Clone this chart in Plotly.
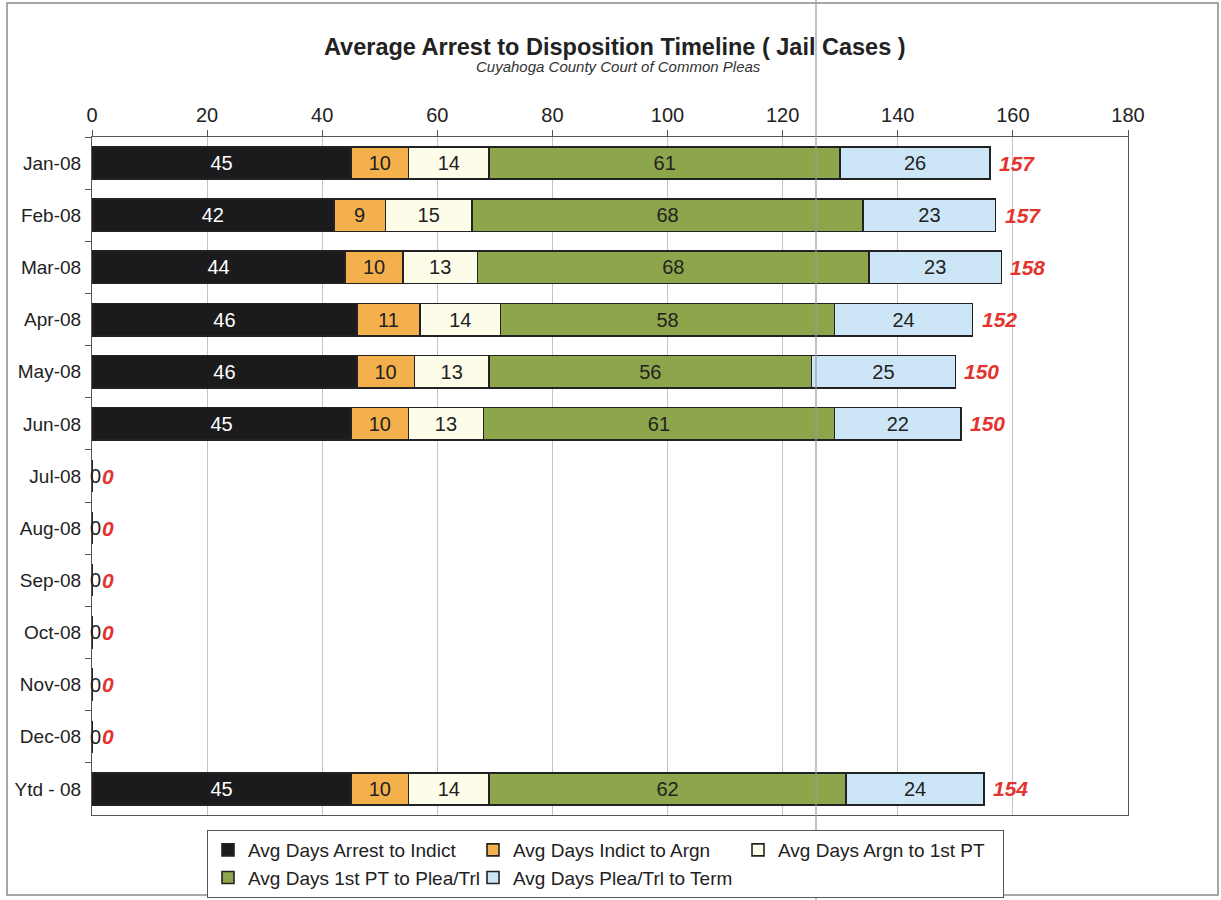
import plotly.graph_objects as go

months = ["Jan-08", "Feb-08", "Mar-08", "Apr-08", "May-08", "Jun-08", "Jul-08",
          "Aug-08", "Sep-08", "Oct-08", "Nov-08", "Dec-08", "Ytd - 08"]

arrest_to_indict = [45, 42, 44, 46, 46, 45, 0, 0, 0, 0, 0, 0, 45]
indict_to_argn = [10, 9, 10, 11, 10, 10, 0, 0, 0, 0, 0, 0, 10]
argn_to_1st_pt = [14, 15, 13, 14, 13, 13, 0, 0, 0, 0, 0, 0, 14]
pt_to_plea = [61, 68, 68, 58, 56, 61, 0, 0, 0, 0, 0, 0, 62]
plea_to_term = [26, 23, 23, 24, 25, 22, 0, 0, 0, 0, 0, 0, 24]
totals = [157, 157, 158, 152, 150, 150, 0, 0, 0, 0, 0, 0, 154]

series = [
    ("Avg Days Arrest to Indict", arrest_to_indict, "#1b1b1d", "white"),
    ("Avg Days Indict to Argn", indict_to_argn, "#f3b04d", "#222222"),
    ("Avg Days Argn to 1st PT", argn_to_1st_pt, "#fcfce8", "#222222"),
    ("Avg Days 1st PT to Plea/Trl", pt_to_plea, "#8da64b", "#222222"),
    ("Avg Days Plea/Trl to Term", plea_to_term, "#cde6f7", "#222222"),
]

FONT = "Arial, Liberation Sans, sans-serif"

fig = go.Figure()
for name, vals, color, txtcol in series:
    fig.add_trace(go.Bar(
        y=months, x=vals, name=name, orientation="h",
        marker=dict(color=color, line=dict(color="#222222", width=1.6)),
        text=[str(v) if v else "" for v in vals],
        textposition="inside", insidetextanchor="middle", textangle=0,
        textfont=dict(family=FONT, size=20, color=txtcol),
        hoverinfo="x+name",
    ))

# totals at the end of each bar, plus the zero labels for empty months
bar_ends = [a + b + c + d + e for a, b, c, d, e in
            zip(arrest_to_indict, indict_to_argn, argn_to_1st_pt, pt_to_plea, plea_to_term)]
for m, end, tot in zip(months, bar_ends, totals):
    fig.add_annotation(x=end, y=m, text="<b><i>%d</i></b>" % tot, showarrow=False,
                       xanchor="left", xshift=7 if tot else 8,
                       font=dict(family=FONT, size=21, color="#e3342f"))
    if tot == 0:
        fig.add_annotation(x=0, y=m, text="0", showarrow=False, xanchor="center", xshift=3,
                           font=dict(family=FONT, size=20, color="#222222"))

fig.add_annotation(xref="paper", yref="paper", x=0.505, y=1.0 + (137 - 47) / 678,
                   text="<b>Average Arrest to Disposition Timeline ( Jail Cases )</b>",
                   showarrow=False, yanchor="middle",
                   font=dict(family=FONT, size=23.5, color="#222222"))
fig.add_annotation(xref="paper", yref="paper", x=0.508, y=1.0 + (137 - 67) / 678,
                   text="<i>Cuyahoga County Court of Common Pleas</i>",
                   showarrow=False, yanchor="middle",
                   font=dict(family=FONT, size=15, color="#333333"))

# outer frame and the scanner line
fig.add_shape(type="rect", xref="paper", yref="paper",
              x0=(7 - 92) / 1036, x1=(1218 - 92) / 1036,
              y0=(815 - 895) / 678, y1=(815 - 3) / 678,
              line=dict(color="#8a8a8a", width=1.5))
fig.add_shape(type="line", xref="paper", yref="paper",
              x0=(816 - 92) / 1036, x1=(816 - 92) / 1036,
              y0=(815 - 900) / 678, y1=(815 - 0) / 678,
              line=dict(color="#9a9a9a", width=1.2))

fig.update_layout(
    barmode="stack", bargap=0.38,
    width=1221, height=900,
    margin=dict(l=92, r=93, t=137, b=85),
    paper_bgcolor="white", plot_bgcolor="white",
    font=dict(family=FONT, size=16, color="#222222"),
    uniformtext=dict(minsize=20, mode="show"),
    showlegend=True,
    legend=dict(orientation="h", xref="container", x=207 / 1221, xanchor="left",
                yref="container", y=(900 - 830) / 900, yanchor="top",
                entrywidth=220, entrywidthmode="pixels",
                bordercolor="#555555", borderwidth=1, traceorder="normal",
                tracegroupgap=0,
                font=dict(family=FONT, size=19, color="#222222"), itemwidth=30),
    xaxis=dict(range=[0, 180], dtick=20, side="top", showgrid=True,
               gridcolor="#c4c4c4", gridwidth=1, zeroline=False,
               showline=True, linecolor="#555555", linewidth=1.2, mirror=True,
               ticks="outside", ticklen=6, tickcolor="#555555",
               tickfont=dict(family=FONT, size=20, color="#222222")),
    yaxis=dict(autorange="reversed", showline=True, linecolor="#555555", linewidth=1.2,
               mirror=True, ticks="outside", ticklen=6, tickcolor="#555555",
               tickson="boundaries", ticklabelstandoff=6,
               tickfont=dict(family=FONT, size=19, color="#222222")),
)

# drop the default page margin so the figure sits at the top-left corner
fig.write_html("out.html", config={"displayModeBar": False},
               post_script="document.body.style.margin='0';")
